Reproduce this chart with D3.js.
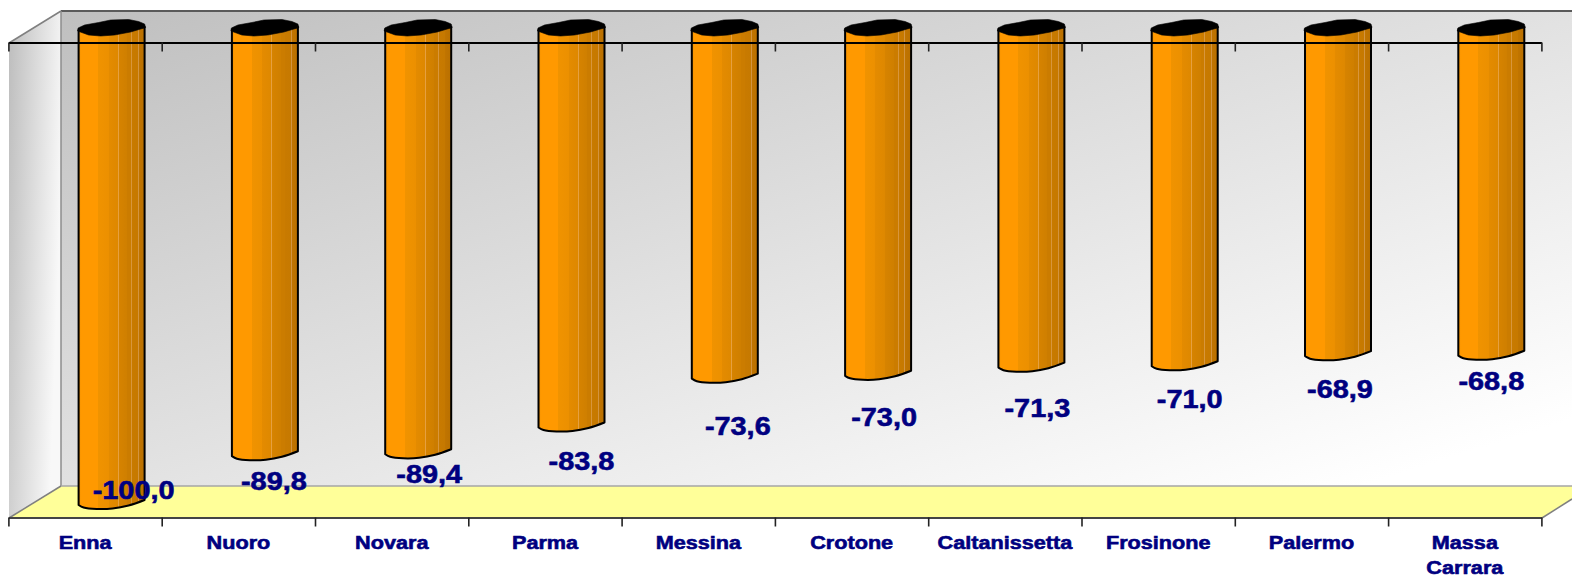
<!DOCTYPE html>
<html>
<head>
<meta charset="utf-8">
<style>
html,body{margin:0;padding:0;background:#fff;overflow:hidden}
svg{display:block}
text{font-family:"Liberation Sans",Arial,sans-serif;font-weight:bold;fill:#000080;stroke:#000080;stroke-width:0.6px;paint-order:stroke}
</style>
<script src="https://cdnjs.cloudflare.com/ajax/libs/d3/7.8.5/d3.min.js"></script>
</head>
<body>
<svg id="chart" width="1572" height="577"></svg>
<script>
const categories = ["Enna","Nuoro","Novara","Parma","Messina","Crotone","Caltanissetta","Frosinone","Palermo","Massa Carrara"];
const values = [-100.0,-89.8,-89.4,-83.8,-73.6,-73.0,-71.3,-71.0,-68.9,-68.8];
// Hand-placed data label offsets of the original, relative to the bar foot
const labelNudgeX = [22,9,11,10,13,6,6,5,2,0];
const labelFootGap = [-16,24,19,33,47,41,40,32,32,25];

const W = 1572;
const left = 9, right = 1542, axisTop = 43, floorFront = 518;
const depthX = 52, depthY = 32;
const barOffset = 69.6, barW = 66, capY = 30;

const svg = d3.select("#chart");
const defs = svg.append("defs");
function grad(id, attrs, stops){
  const g = defs.append("linearGradient").attr("id", id);
  Object.entries(attrs).forEach(([k,v]) => g.attr(k,v));
  stops.forEach(s => g.append("stop").attr("offset", s[0]).attr("stop-color", s[1]));
}
grad("wall",{x1:0,y1:0,x2:0.93,y2:0.93},[[0,"#bfbfbf"],[1,"#ffffff"]]);
grad("side",{x1:0,y1:0,x2:1,y2:0.35},[[0,"#bdbdbd"],[1,"#f8f8f8"]]);
const st = [
  [0,"#f09000"],[.04,"#ff9900"],[.3,"#ff9900"],[.3,"#f09300"],[.46,"#ec9000"],[.46,"#e48b00"],
  [.6,"#de8800"],[.6,"#e6a040"],[.612,"#e6a040"],[.612,"#d68300"],[.74,"#cf7f00"],[.74,"#cb7c00"],
  [.8,"#cb7c00"],[.8,"#d8963c"],[.812,"#d8963c"],[.812,"#c87a00"],[.9,"#c67900"],[.9,"#d39440"],[.912,"#d39440"],[.912,"#c07400"],[1,"#b97000"]
];
grad("bar",{x1:0,y1:0,x2:1,y2:0},st);

const xIdx = d3.scaleLinear().domain([0, categories.length]).range([left, right]);
const x = d3.scaleBand().domain(categories).range([left, right]);
const y = d3.scaleLinear().domain([0,-100]).range([26.5, 505]);

// walls and floor
const backX = left + depthX, backTop = axisTop - depthY, backBot = floorFront - depthY;
svg.append("rect").attr("x",backX).attr("y",backTop).attr("width",W-backX+2).attr("height",backBot-backTop)
  .attr("fill","url(#wall)");
svg.append("polygon").attr("points",[[left,axisTop],[backX,backTop],[backX,backBot],[left,floorFront]].join(" "))
  .attr("fill","url(#side)");
svg.append("polygon").attr("points",[[left,floorFront],[backX,backBot],[W,backBot],[W,floorFront-19],[right,floorFront]].join(" "))
  .attr("fill","#ffff99");
const edge = (a,b,c,w) => svg.append("line").attr("x1",a[0]).attr("y1",a[1]).attr("x2",b[0]).attr("y2",b[1])
  .attr("stroke",c).attr("stroke-width",w);
edge([backX,backTop],[W,backTop],"#5a5a5a",2);
edge([backX,backTop],[backX,backBot],"#8c8c8c",1.5);
edge([left,axisTop],[backX,backTop],"#808080",1.5);
edge([left,floorFront],[backX,backBot],"#808080",1.5);
edge([backX,backBot],[W,backBot],"#a6a6a6",1.5);
edge([right,floorFront],[W,floorFront-19],"#808080",1.5);

// bars
const bars = svg.append("g").selectAll("g").data(categories.map((c,i)=>({c,v:values[i],i}))).join("g")
  .attr("transform", d => `translate(${x(d.c)+barOffset},0)`);
const curve = d3.line().curve(d3.curveCatmullRom.alpha(0.5));
bars.append("path")
  .attr("d", d => {
    const b = y(d.v);
    return `M0,${capY}L0,${b}` +
      curve([[0,b],[5,b+2.5],[18,b+4],[34,b+3.5],[50,b+0.5],[66,b-5]]).replace(/^M[^C]*/,"") +
      `L66,${capY-3}Z`;
  })
  .attr("fill","url(#bar)").attr("stroke","#000").attr("stroke-width",2).attr("stroke-linejoin","round");
bars.append("path")
  .attr("d", "M-1,31 L-0.5,28 L6,25 L20,22.5 L32,20 L50,19.5 L60,21.5 L66,24 L67,27.5 L52,32 L36,35 L22,36 L10,35 Z")
  .attr("fill","#000").attr("stroke","#000").attr("stroke-width",0.6).attr("stroke-linejoin","round");

// axes
const ax = g => g.call(d3.axisBottom(xIdx).tickValues(d3.range(categories.length+1)).tickFormat("").tickSize(9).tickSizeOuter(0))
  .call(s => s.selectAll(".domain").attr("stroke","#000").attr("stroke-width",1.8))
  .call(s => s.selectAll(".tick line").attr("stroke","#222").attr("stroke-width",1.6));
svg.append("g").attr("transform",`translate(-0.6,${axisTop-0.5})`).call(ax);
svg.append("g").attr("transform",`translate(-0.6,${floorFront-0.5})`).call(ax)
  .call(s => s.selectAll(".domain").attr("stroke","#444").attr("stroke-width",2));

// data labels
const valFmt = v => v.toFixed(1).replace(".",",");
svg.append("g").selectAll("text").data(values).join("text")
  .attr("text-anchor","middle")
  .attr("transform",(v,i)=>`translate(${x(categories[i])+barOffset+barW/2+labelNudgeX[i]},${y(v)+labelFootGap[i]+9.5}) scale(1.09,1)`)
  .attr("font-size",26.5)
  .text(valFmt);

// category labels
const cat = svg.append("g").selectAll("text").data(categories).join("text")
  .attr("text-anchor","middle")
  .attr("transform",d=>`translate(${x(d)+x.bandwidth()/2-0.5},549) scale(1.14,1)`)
  .attr("font-size",19);
cat.each(function(d){
  const el = d3.select(this);
  d.split(" ").forEach((w,i)=> el.append("tspan").attr("x",0).attr("y",i*25).text(w));
});
</script>
</body>
</html>
